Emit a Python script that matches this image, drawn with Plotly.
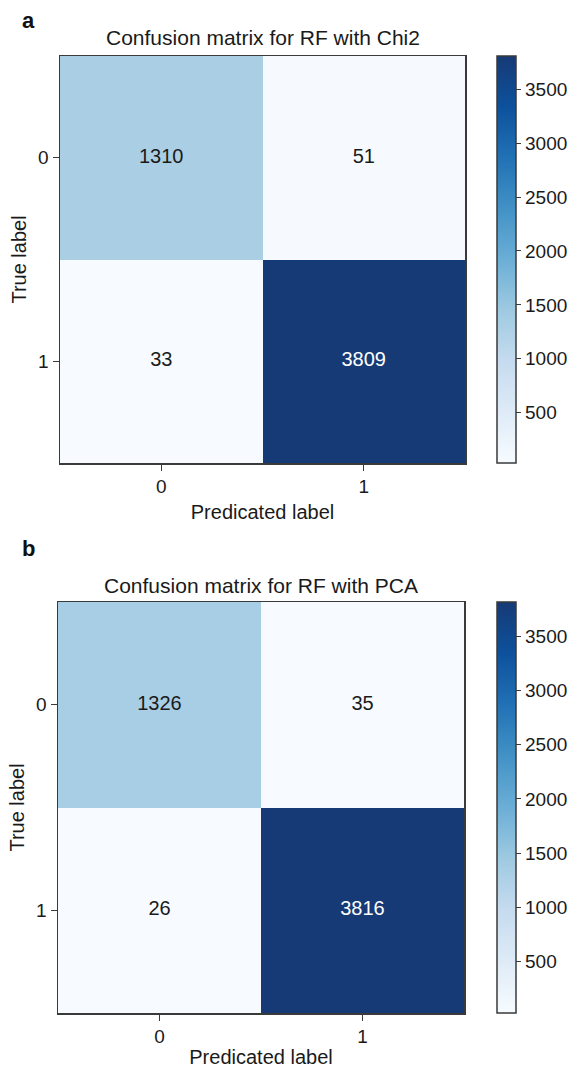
import plotly.graph_objects as go

# ---- data ----
classes = ["0", "1"]
titles = ["Confusion matrix for RF with Chi2", "Confusion matrix for RF with PCA"]
panel_letters = ["a", "b"]
cm_chi2 = [[1310, 51], [33, 3809]]
cm_pca = [[1326, 35], [26, 3816]]
cbar_ticks = [500, 1000, 1500, 2000, 2500, 3000, 3500]
x_title = "Predicated label"
y_title = "True label"

matrices = [cm_chi2, cm_pca]

# ---- style ----
W, H = 580, 1068
FONT = "Liberation Sans, Arial, Helvetica, sans-serif"
FS = 19
TXT = "#1a1a1a"
LINE = "#3a3a3a"
blues = [
    [0.0, "#f7fbff"], [0.125, "#deebf7"], [0.25, "#c6dbef"], [0.375, "#9ecae1"],
    [0.5, "#6baed6"], [0.625, "#4292c6"], [0.75, "#2171b5"], [0.875, "#0d519c"],
    [1.0, "#163a75"],
]
# pixel geometry of each panel: (left, right, top, bottom)
geom = [(60, 465, 56, 463), (58, 464, 602, 1013)]
title_y = [38, 585]
letter_y = [20, 548]
x_standoff = [8, 5]
cbar_left = 497

fig = go.Figure()
annotations = []
layout = {}
for i, (cm, (x0, x1, y0, y1)) in enumerate(zip(matrices, geom)):
    n = i + 1
    xa = "x" if n == 1 else f"x{n}"
    ya = "y" if n == 1 else f"y{n}"
    zmax = max(max(r) for r in cm)
    fig.add_trace(go.Heatmap(
        z=cm, x=classes, y=classes, xaxis=xa, yaxis=ya,
        colorscale=blues, showscale=True,
        colorbar=dict(
            x=cbar_left / W, xanchor="left", xpad=0,
            y=1 - (y0 + y1) / 2 / H, yanchor="middle", ypad=0,
            len=(y1 - y0) / H, lenmode="fraction", thickness=19,
            outlinewidth=1.5, outlinecolor=LINE,
            tickvals=cbar_ticks, ticks="outside", ticklen=5, tickcolor=LINE,
            tickfont=dict(family=FONT, size=FS, color=TXT),
        ),
        hoverinfo="skip",
    ))
    xs, ys, ts, cs = [], [], [], []
    for r, yl in enumerate(classes):
        for c, xl in enumerate(classes):
            xs.append(xl); ys.append(yl); ts.append(str(cm[r][c]))
            cs.append("white" if cm[r][c] > zmax / 2 else TXT)
    fig.add_trace(go.Scatter(
        x=xs, y=ys, text=ts, mode="text", xaxis=xa, yaxis=ya,
        textfont=dict(family=FONT, size=20, color=cs), showlegend=False,
        hoverinfo="skip",
    ))
    axis_common = dict(
        showline=True, mirror=True, linecolor=LINE, linewidth=1.5,
        showgrid=False, zeroline=False, ticks="outside", ticklen=6,
        tickcolor=LINE, tickfont=dict(family=FONT, size=FS, color=TXT),
        type="category", automargin=False,
    )
    layout["xaxis" if n == 1 else f"xaxis{n}"] = dict(
        axis_common, domain=[x0 / W, x1 / W], anchor=ya,
        title=dict(text=x_title, font=dict(family=FONT, size=20, color=TXT),
                   standoff=x_standoff[i]),
    )
    layout["yaxis" if n == 1 else f"yaxis{n}"] = dict(
        axis_common, domain=[1 - y1 / H, 1 - y0 / H], anchor=xa, autorange="reversed",
        title=dict(text=y_title, font=dict(family=FONT, size=20, color=TXT), standoff=6),
    )
    annotations.append(dict(
        text=titles[i], x=(x0 + x1) / 2 / W, y=1 - title_y[i] / H, xref="paper", yref="paper",
        xanchor="center", yanchor="middle", showarrow=False,
        font=dict(family=FONT, size=21, color=TXT),
    ))
    annotations.append(dict(
        text=f"<b>{panel_letters[i]}</b>", x=20 / W, y=1 - letter_y[i] / H,
        xref="paper", yref="paper", xanchor="left", yanchor="middle", showarrow=False,
        font=dict(family=FONT, size=22, color="#111"),
    ))

fig.update_layout(
    width=W, height=H, margin=dict(l=0, r=0, t=0, b=0, autoexpand=False),
    paper_bgcolor="white", plot_bgcolor="white",
    annotations=annotations, showlegend=False, **layout,
)
fig.write_html(
    "out.html",
    config={"displayModeBar": False, "staticPlot": True},
    post_script="document.body.style.margin='0';document.body.style.overflow='hidden';",
)
